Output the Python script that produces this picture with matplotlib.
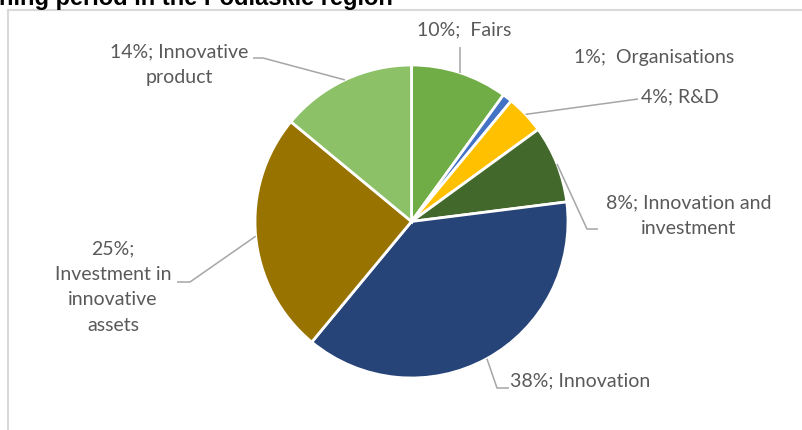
import numpy as np
import matplotlib
matplotlib.use("Agg")
import matplotlib.pyplot as plt

# share of support by area
categories = ["Fairs", "Organisations", "R&D", "Innovation and investment",
              "Innovation", "Investment in innovative assets", "Innovative product"]
shares = [10, 1, 4, 8, 38, 25, 14]
label_texts = ["10%;  Fairs", "1%;  Organisations", "4%; R&D",
               "8%; Innovation and\ninvestment", "38%; Innovation",
               "25%;\nInvestment in\ninnovative\nassets",
               "14%; Innovative\nproduct"]
colors = ["#70AD47", "#4472C4", "#FFC000", "#43682B",
          "#264478", "#997300", "#8CC168"]

W, H = 802, 430
fig = plt.figure(figsize=(W / 100, H / 100), dpi=100)
ax = fig.add_axes([0, 0, 1, 1])

cx, cy, r = 411.5, H - 221.5, 156.5
wedges, _ = ax.pie(shares, colors=colors, startangle=90, counterclock=False,
                   center=(cx, cy), radius=r,
                   wedgeprops=dict(edgecolor="white", linewidth=2))
ax.set_xlim(0, W)
ax.set_ylim(0, H)
ax.set_aspect("equal")
ax.axis("off")

txt = dict(family="Lato", fontsize=14, color="#595959")

def py(y):
    return H - y

# label placement: (x, y, ha), leader path points ending at wedge edge
labels = [
    (464, 30, "center", [(462, 47)]),
    (654, 57, "center", None),
    (641, 97, "left", [(638, 99)]),
    (689, 216, "center", [(598, 229), (587, 229)]),
    (510, 381, "left", [(509, 388), (497, 388)]),
    (113, 287, "center", [(177, 282), (190, 282)]),
    (179, 65, "center", [(253, 58), (263, 58)]),
]

for w, t, (x, y, ha, path) in zip(wedges, label_texts, labels):
    ax.text(x, py(y), t, ha=ha, va="center", linespacing=1.6, **txt)
    if path is None:
        continue
    mid = np.deg2rad((w.theta1 + w.theta2) / 2)
    ex, ey = cx + r * np.cos(mid), cy + r * np.sin(mid)
    xs = [p[0] for p in path] + [ex]
    ys = [py(p[1]) for p in path] + [ey]
    if len(path) == 1 and t.startswith("10%"):
        xs[0] = ex
    ax.plot(xs, ys, color="#A6A6A6", lw=1.1, solid_capstyle="butt")

# chart area border (top and left visible)
ax.plot([8, W], [py(10), py(10)], color="#D9D9D9", lw=1.5)
ax.plot([8, 8], [py(10), 0], color="#D9D9D9", lw=1.5)

# title, mostly cut off at the top
ax.text(-1, py(5), "ning period in the Podlaskie region", ha="left",
        va="baseline", family="Liberation Sans", fontweight="bold",
        fontsize=17, color="black")

fig.savefig("out.png", dpi=100)
